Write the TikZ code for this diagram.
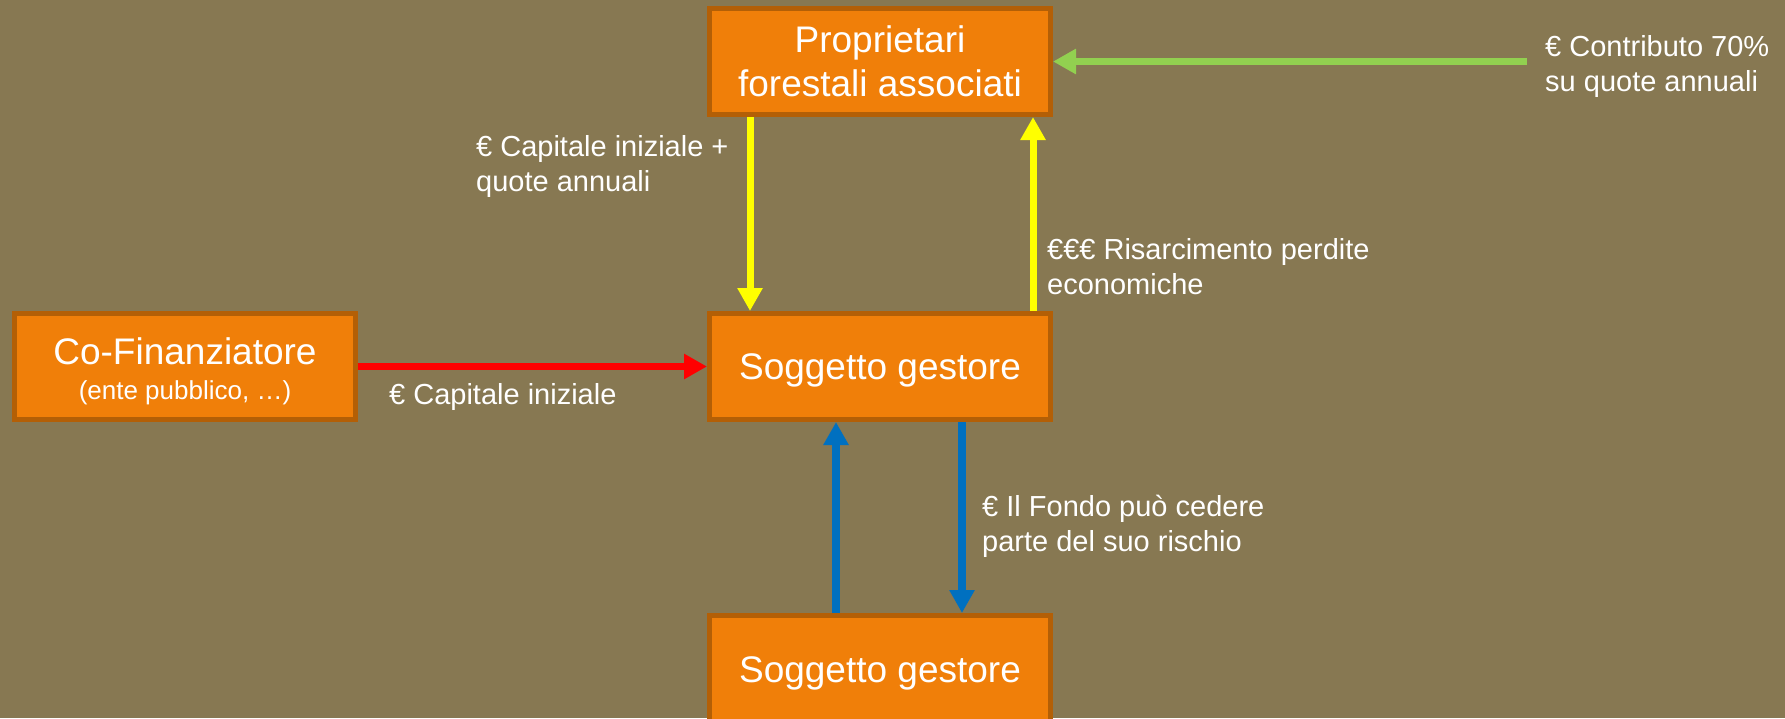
\documentclass[tikz,border=0pt]{standalone}
\usepackage{fontspec}
\setmainfont{Liberation Sans}
\usetikzlibrary{arrows.meta}
\definecolor{bg}{HTML}{877852}
\definecolor{boxfill}{HTML}{F07F09}
\definecolor{boxline}{HTML}{B35F06}
\definecolor{arrowyellow}{HTML}{FFFF00}
\definecolor{arrowred}{HTML}{FF0000}
\definecolor{arrowgreen}{HTML}{92D050}
\definecolor{arrowblue}{HTML}{0070C0}
\newcommand{\topstrut}[1]{\rule{0pt}{#1}}
\tikzset{
  box/.style={draw=boxline, fill=boxfill, line width=5pt, minimum width=341pt,
    minimum height=106pt, inner sep=0pt, text=white, align=center,
    font=\fontsize{37}{44}\selectfont},
  lbl/.style={text=white, anchor=base west, inner sep=0pt, align=left,
    font=\fontsize{29}{35}\selectfont},
  flow/.style={line width=7pt, -{Triangle[length=23pt,width=24pt]}},
}
\begin{document}
\begin{tikzpicture}[x=1pt,y=-1pt]
\fill[bg] (0,0) rectangle (1785,718);
\useasboundingbox (0,0) rectangle (1785,718);

\node[box] (top) at (880,61.5) {Proprietari\\forestali associati};
\node[box] (mid) at (880,366.5) {\topstrut{34pt}Soggetto gestore};
\node[box] (bot) at (880,668.5) {\topstrut{35pt}Soggetto gestore};
\node[box] (cof) at (185,366.5) {\topstrut{37pt}Co-Finanziatore\\[-9pt]{\fontsize{26}{31}\selectfont (ente pubblico, …)}};

\coordinate (gsrc) at (1527,61.5);

\draw[flow, arrowyellow] ([xshift=-130pt]top.south) -- ([xshift=-130pt]mid.north);
\draw[flow, arrowyellow] ([xshift=153pt]mid.north) -- ([xshift=153pt]top.south);
\draw[flow, arrowred] (cof.east) -- (mid.west);
\draw[flow, arrowgreen] (gsrc) -- (top.east);
\draw[flow, arrowblue, line width=8pt] ([xshift=-44pt]bot.north) -- ([xshift=-44pt]mid.south);
\draw[flow, arrowblue, line width=8pt] ([xshift=82pt]mid.south) -- ([xshift=82pt]bot.north);

% base anchor of a two-line label is the baseline of its last line
\node[lbl] (l1) at (476,191) {€ Capitale iniziale +\\quote annuali};
\node[lbl] (l2) at (1047,294) {€€€ Risarcimento perdite\\economiche};
\node[lbl] (l3) at (389,404) {€ Capitale iniziale};
\node[lbl] (l4) at (982,551) {€ Il Fondo può cedere\\parte del suo rischio};
\node[lbl] (l5) at (1545,91) {€ Contributo 70\%\\su quote annuali};
\end{tikzpicture}
\end{document}
